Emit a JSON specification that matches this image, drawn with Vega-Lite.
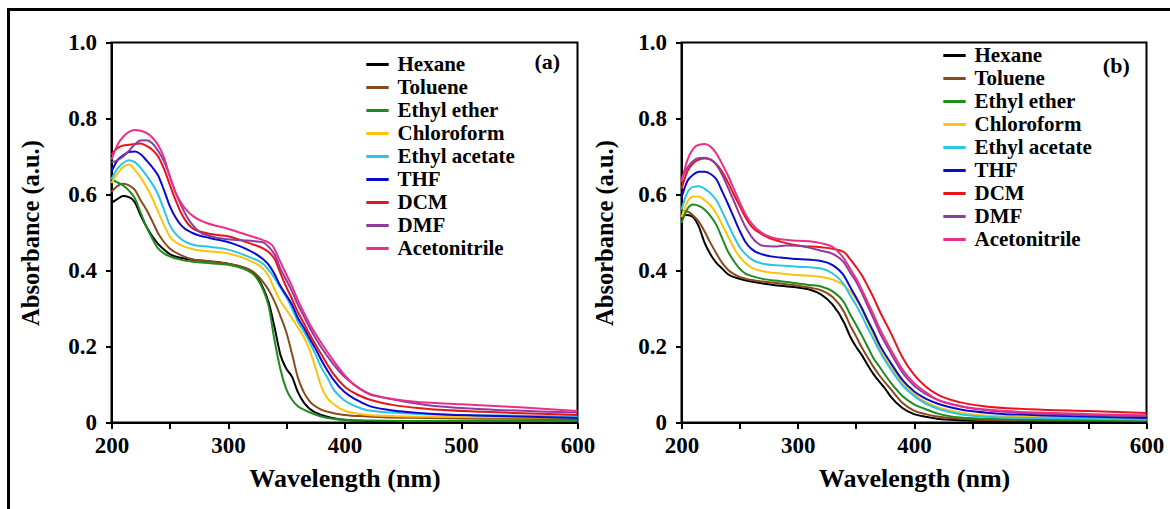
{
"$schema": "https://vega.github.io/schema/vega-lite/v6.json",
"background": "white",
"padding": {"left": 4.5, "top": 5.5, "right": 0, "bottom": 0},
"bounds": "flush",
"spacing": 104,
"resolve": {"scale": {"color": "independent"}, "legend": {"color": "independent"}},
"config": {
 "font": "Liberation Serif",
 "view": {"stroke": "black", "strokeWidth": 2},
 "axis": {"labelFont": "Liberation Serif", "labelFontWeight": "bold", "labelFontSize": 23, "labelColor": "black", "titleFont": "Liberation Serif", "titleFontWeight": "bold", "titleColor": "black", "domainColor": "black", "domainWidth": 2, "tickColor": "black", "tickWidth": 2, "tickSize": 6, "grid": false, "labelOverlap": false, "labelFlush": false},
 "axisX": {"titleFontSize": 26},
 "axisY": {"titleFontSize": 24.5},
 "legend": {"labelFont": "Liberation Serif", "labelFontWeight": "bold", "labelFontSize": 21, "labelColor": "black", "symbolType": "stroke", "symbolStrokeWidth": 3, "symbolSize": 500, "rowPadding": 0, "labelOffset": 7, "padding": 0}
},
"datasets": {
"a": [
{"s":"Hexane","w":200,"a":0.578},{"s":"Hexane","w":205,"a":0.588},{"s":"Hexane","w":210,"a":0.596},{"s":"Hexane","w":215,"a":0.593},{"s":"Hexane","w":220,"a":0.58},{"s":"Hexane","w":225,"a":0.545},{"s":"Hexane","w":230,"a":0.515},{"s":"Hexane","w":235,"a":0.49},{"s":"Hexane","w":240,"a":0.47},{"s":"Hexane","w":245,"a":0.455},{"s":"Hexane","w":250,"a":0.443},{"s":"Hexane","w":260,"a":0.433},{"s":"Hexane","w":270,"a":0.428},{"s":"Hexane","w":285,"a":0.424},{"s":"Hexane","w":300,"a":0.418},{"s":"Hexane","w":320,"a":0.398},{"s":"Hexane","w":330,"a":0.355},{"s":"Hexane","w":335,"a":0.315},{"s":"Hexane","w":340,"a":0.25},{"s":"Hexane","w":345,"a":0.178},{"s":"Hexane","w":350,"a":0.142},{"s":"Hexane","w":355,"a":0.12},{"s":"Hexane","w":360,"a":0.08},{"s":"Hexane","w":365,"a":0.053},{"s":"Hexane","w":370,"a":0.036},{"s":"Hexane","w":380,"a":0.02},{"s":"Hexane","w":390,"a":0.012},{"s":"Hexane","w":400,"a":0.007},{"s":"Hexane","w":420,"a":0.004},{"s":"Hexane","w":450,"a":0.003},{"s":"Hexane","w":520,"a":0.002},{"s":"Hexane","w":600,"a":0.002},
{"s":"Toluene","w":200,"a":0.607},{"s":"Toluene","w":205,"a":0.622},{"s":"Toluene","w":210,"a":0.628},{"s":"Toluene","w":215,"a":0.624},{"s":"Toluene","w":220,"a":0.612},{"s":"Toluene","w":225,"a":0.585},{"s":"Toluene","w":230,"a":0.56},{"s":"Toluene","w":235,"a":0.53},{"s":"Toluene","w":240,"a":0.498},{"s":"Toluene","w":245,"a":0.475},{"s":"Toluene","w":250,"a":0.458},{"s":"Toluene","w":260,"a":0.44},{"s":"Toluene","w":270,"a":0.429},{"s":"Toluene","w":285,"a":0.424},{"s":"Toluene","w":300,"a":0.418},{"s":"Toluene","w":320,"a":0.4},{"s":"Toluene","w":330,"a":0.37},{"s":"Toluene","w":335,"a":0.348},{"s":"Toluene","w":340,"a":0.318},{"s":"Toluene","w":345,"a":0.28},{"s":"Toluene","w":350,"a":0.238},{"s":"Toluene","w":355,"a":0.18},{"s":"Toluene","w":360,"a":0.118},{"s":"Toluene","w":365,"a":0.08},{"s":"Toluene","w":370,"a":0.056},{"s":"Toluene","w":380,"a":0.034},{"s":"Toluene","w":390,"a":0.025},{"s":"Toluene","w":400,"a":0.02},{"s":"Toluene","w":420,"a":0.016},{"s":"Toluene","w":440,"a":0.013},{"s":"Toluene","w":470,"a":0.012},{"s":"Toluene","w":520,"a":0.01},{"s":"Toluene","w":600,"a":0.009},
{"s":"Ethyl ether","w":200,"a":0.64},{"s":"Ethyl ether","w":205,"a":0.632},{"s":"Ethyl ether","w":210,"a":0.624},{"s":"Ethyl ether","w":215,"a":0.61},{"s":"Ethyl ether","w":220,"a":0.59},{"s":"Ethyl ether","w":225,"a":0.552},{"s":"Ethyl ether","w":230,"a":0.515},{"s":"Ethyl ether","w":235,"a":0.484},{"s":"Ethyl ether","w":240,"a":0.458},{"s":"Ethyl ether","w":245,"a":0.445},{"s":"Ethyl ether","w":250,"a":0.437},{"s":"Ethyl ether","w":260,"a":0.428},{"s":"Ethyl ether","w":270,"a":0.423},{"s":"Ethyl ether","w":285,"a":0.419},{"s":"Ethyl ether","w":300,"a":0.415},{"s":"Ethyl ether","w":320,"a":0.394},{"s":"Ethyl ether","w":330,"a":0.35},{"s":"Ethyl ether","w":335,"a":0.305},{"s":"Ethyl ether","w":340,"a":0.215},{"s":"Ethyl ether","w":345,"a":0.14},{"s":"Ethyl ether","w":350,"a":0.088},{"s":"Ethyl ether","w":355,"a":0.06},{"s":"Ethyl ether","w":360,"a":0.043},{"s":"Ethyl ether","w":365,"a":0.034},{"s":"Ethyl ether","w":370,"a":0.027},{"s":"Ethyl ether","w":380,"a":0.016},{"s":"Ethyl ether","w":390,"a":0.01},{"s":"Ethyl ether","w":400,"a":0.007},{"s":"Ethyl ether","w":420,"a":0.005},{"s":"Ethyl ether","w":450,"a":0.004},{"s":"Ethyl ether","w":520,"a":0.004},{"s":"Ethyl ether","w":600,"a":0.004},
{"s":"Chloroform","w":200,"a":0.63},{"s":"Chloroform","w":205,"a":0.655},{"s":"Chloroform","w":210,"a":0.672},{"s":"Chloroform","w":215,"a":0.679},{"s":"Chloroform","w":220,"a":0.665},{"s":"Chloroform","w":225,"a":0.645},{"s":"Chloroform","w":230,"a":0.62},{"s":"Chloroform","w":235,"a":0.59},{"s":"Chloroform","w":240,"a":0.555},{"s":"Chloroform","w":245,"a":0.52},{"s":"Chloroform","w":250,"a":0.49},{"s":"Chloroform","w":260,"a":0.466},{"s":"Chloroform","w":270,"a":0.456},{"s":"Chloroform","w":285,"a":0.45},{"s":"Chloroform","w":300,"a":0.445},{"s":"Chloroform","w":320,"a":0.424},{"s":"Chloroform","w":330,"a":0.405},{"s":"Chloroform","w":335,"a":0.385},{"s":"Chloroform","w":340,"a":0.35},{"s":"Chloroform","w":345,"a":0.32},{"s":"Chloroform","w":350,"a":0.297},{"s":"Chloroform","w":355,"a":0.274},{"s":"Chloroform","w":360,"a":0.25},{"s":"Chloroform","w":365,"a":0.225},{"s":"Chloroform","w":370,"a":0.192},{"s":"Chloroform","w":375,"a":0.145},{"s":"Chloroform","w":380,"a":0.095},{"s":"Chloroform","w":385,"a":0.065},{"s":"Chloroform","w":390,"a":0.05},{"s":"Chloroform","w":400,"a":0.031},{"s":"Chloroform","w":420,"a":0.02},{"s":"Chloroform","w":440,"a":0.017},{"s":"Chloroform","w":470,"a":0.015},{"s":"Chloroform","w":520,"a":0.014},{"s":"Chloroform","w":600,"a":0.013},
{"s":"Ethyl acetate","w":200,"a":0.64},{"s":"Ethyl acetate","w":205,"a":0.668},{"s":"Ethyl acetate","w":210,"a":0.683},{"s":"Ethyl acetate","w":215,"a":0.69},{"s":"Ethyl acetate","w":220,"a":0.685},{"s":"Ethyl acetate","w":225,"a":0.67},{"s":"Ethyl acetate","w":230,"a":0.65},{"s":"Ethyl acetate","w":235,"a":0.628},{"s":"Ethyl acetate","w":240,"a":0.6},{"s":"Ethyl acetate","w":245,"a":0.56},{"s":"Ethyl acetate","w":250,"a":0.52},{"s":"Ethyl acetate","w":260,"a":0.482},{"s":"Ethyl acetate","w":270,"a":0.468},{"s":"Ethyl acetate","w":285,"a":0.462},{"s":"Ethyl acetate","w":300,"a":0.455},{"s":"Ethyl acetate","w":320,"a":0.433},{"s":"Ethyl acetate","w":330,"a":0.418},{"s":"Ethyl acetate","w":340,"a":0.38},{"s":"Ethyl acetate","w":345,"a":0.355},{"s":"Ethyl acetate","w":350,"a":0.33},{"s":"Ethyl acetate","w":355,"a":0.3},{"s":"Ethyl acetate","w":360,"a":0.265},{"s":"Ethyl acetate","w":365,"a":0.24},{"s":"Ethyl acetate","w":370,"a":0.212},{"s":"Ethyl acetate","w":375,"a":0.18},{"s":"Ethyl acetate","w":380,"a":0.145},{"s":"Ethyl acetate","w":385,"a":0.12},{"s":"Ethyl acetate","w":390,"a":0.09},{"s":"Ethyl acetate","w":400,"a":0.058},{"s":"Ethyl acetate","w":410,"a":0.042},{"s":"Ethyl acetate","w":420,"a":0.032},{"s":"Ethyl acetate","w":440,"a":0.026},{"s":"Ethyl acetate","w":470,"a":0.022},{"s":"Ethyl acetate","w":520,"a":0.019},{"s":"Ethyl acetate","w":600,"a":0.016},
{"s":"THF","w":200,"a":0.66},{"s":"THF","w":205,"a":0.69},{"s":"THF","w":210,"a":0.703},{"s":"THF","w":215,"a":0.712},{"s":"THF","w":220,"a":0.713},{"s":"THF","w":225,"a":0.706},{"s":"THF","w":230,"a":0.69},{"s":"THF","w":235,"a":0.672},{"s":"THF","w":240,"a":0.65},{"s":"THF","w":245,"a":0.612},{"s":"THF","w":250,"a":0.57},{"s":"THF","w":260,"a":0.518},{"s":"THF","w":270,"a":0.498},{"s":"THF","w":285,"a":0.485},{"s":"THF","w":300,"a":0.475},{"s":"THF","w":310,"a":0.464},{"s":"THF","w":320,"a":0.45},{"s":"THF","w":330,"a":0.43},{"s":"THF","w":335,"a":0.415},{"s":"THF","w":340,"a":0.39},{"s":"THF","w":345,"a":0.359},{"s":"THF","w":350,"a":0.335},{"s":"THF","w":355,"a":0.31},{"s":"THF","w":360,"a":0.275},{"s":"THF","w":365,"a":0.25},{"s":"THF","w":370,"a":0.222},{"s":"THF","w":375,"a":0.195},{"s":"THF","w":380,"a":0.165},{"s":"THF","w":390,"a":0.115},{"s":"THF","w":400,"a":0.08},{"s":"THF","w":410,"a":0.06},{"s":"THF","w":420,"a":0.045},{"s":"THF","w":440,"a":0.032},{"s":"THF","w":470,"a":0.024},{"s":"THF","w":520,"a":0.018},{"s":"THF","w":600,"a":0.012},
{"s":"DCM","w":200,"a":0.705},{"s":"DCM","w":205,"a":0.722},{"s":"DCM","w":210,"a":0.729},{"s":"DCM","w":215,"a":0.731},{"s":"DCM","w":220,"a":0.733},{"s":"DCM","w":225,"a":0.734},{"s":"DCM","w":230,"a":0.728},{"s":"DCM","w":235,"a":0.718},{"s":"DCM","w":240,"a":0.7},{"s":"DCM","w":245,"a":0.668},{"s":"DCM","w":250,"a":0.626},{"s":"DCM","w":255,"a":0.585},{"s":"DCM","w":260,"a":0.55},{"s":"DCM","w":270,"a":0.51},{"s":"DCM","w":285,"a":0.496},{"s":"DCM","w":300,"a":0.49},{"s":"DCM","w":320,"a":0.47},{"s":"DCM","w":330,"a":0.458},{"s":"DCM","w":335,"a":0.448},{"s":"DCM","w":340,"a":0.43},{"s":"DCM","w":345,"a":0.393},{"s":"DCM","w":350,"a":0.357},{"s":"DCM","w":355,"a":0.325},{"s":"DCM","w":360,"a":0.29},{"s":"DCM","w":365,"a":0.262},{"s":"DCM","w":370,"a":0.232},{"s":"DCM","w":380,"a":0.18},{"s":"DCM","w":390,"a":0.13},{"s":"DCM","w":400,"a":0.095},{"s":"DCM","w":410,"a":0.075},{"s":"DCM","w":420,"a":0.062},{"s":"DCM","w":440,"a":0.047},{"s":"DCM","w":470,"a":0.036},{"s":"DCM","w":520,"a":0.028},{"s":"DCM","w":600,"a":0.02},
{"s":"DMF","w":200,"a":0.685},{"s":"DMF","w":205,"a":0.69},{"s":"DMF","w":210,"a":0.7},{"s":"DMF","w":215,"a":0.715},{"s":"DMF","w":220,"a":0.732},{"s":"DMF","w":225,"a":0.742},{"s":"DMF","w":230,"a":0.743},{"s":"DMF","w":235,"a":0.735},{"s":"DMF","w":240,"a":0.715},{"s":"DMF","w":245,"a":0.688},{"s":"DMF","w":250,"a":0.648},{"s":"DMF","w":255,"a":0.605},{"s":"DMF","w":260,"a":0.57},{"s":"DMF","w":265,"a":0.54},{"s":"DMF","w":275,"a":0.503},{"s":"DMF","w":285,"a":0.49},{"s":"DMF","w":300,"a":0.482},{"s":"DMF","w":320,"a":0.478},{"s":"DMF","w":330,"a":0.474},{"s":"DMF","w":335,"a":0.462},{"s":"DMF","w":340,"a":0.442},{"s":"DMF","w":345,"a":0.405},{"s":"DMF","w":350,"a":0.375},{"s":"DMF","w":355,"a":0.345},{"s":"DMF","w":360,"a":0.31},{"s":"DMF","w":365,"a":0.28},{"s":"DMF","w":370,"a":0.25},{"s":"DMF","w":380,"a":0.198},{"s":"DMF","w":390,"a":0.155},{"s":"DMF","w":400,"a":0.12},{"s":"DMF","w":410,"a":0.096},{"s":"DMF","w":420,"a":0.076},{"s":"DMF","w":440,"a":0.062},{"s":"DMF","w":470,"a":0.046},{"s":"DMF","w":520,"a":0.035},{"s":"DMF","w":600,"a":0.026},
{"s":"Acetonitrile","w":200,"a":0.692},{"s":"Acetonitrile","w":205,"a":0.73},{"s":"Acetonitrile","w":210,"a":0.752},{"s":"Acetonitrile","w":215,"a":0.765},{"s":"Acetonitrile","w":220,"a":0.77},{"s":"Acetonitrile","w":225,"a":0.768},{"s":"Acetonitrile","w":230,"a":0.762},{"s":"Acetonitrile","w":235,"a":0.75},{"s":"Acetonitrile","w":240,"a":0.73},{"s":"Acetonitrile","w":245,"a":0.698},{"s":"Acetonitrile","w":250,"a":0.648},{"s":"Acetonitrile","w":255,"a":0.605},{"s":"Acetonitrile","w":260,"a":0.577},{"s":"Acetonitrile","w":265,"a":0.557},{"s":"Acetonitrile","w":270,"a":0.543},{"s":"Acetonitrile","w":280,"a":0.527},{"s":"Acetonitrile","w":300,"a":0.51},{"s":"Acetonitrile","w":320,"a":0.49},{"s":"Acetonitrile","w":330,"a":0.48},{"s":"Acetonitrile","w":338,"a":0.466},{"s":"Acetonitrile","w":345,"a":0.422},{"s":"Acetonitrile","w":350,"a":0.39},{"s":"Acetonitrile","w":355,"a":0.358},{"s":"Acetonitrile","w":360,"a":0.322},{"s":"Acetonitrile","w":365,"a":0.29},{"s":"Acetonitrile","w":370,"a":0.26},{"s":"Acetonitrile","w":380,"a":0.21},{"s":"Acetonitrile","w":390,"a":0.165},{"s":"Acetonitrile","w":400,"a":0.125},{"s":"Acetonitrile","w":410,"a":0.095},{"s":"Acetonitrile","w":420,"a":0.078},{"s":"Acetonitrile","w":435,"a":0.065},{"s":"Acetonitrile","w":450,"a":0.058},{"s":"Acetonitrile","w":500,"a":0.048},{"s":"Acetonitrile","w":550,"a":0.04},{"s":"Acetonitrile","w":600,"a":0.03}
],
"b": [
{"s":"Hexane","w":200,"a":0.545},{"s":"Hexane","w":205,"a":0.546},{"s":"Hexane","w":210,"a":0.54},{"s":"Hexane","w":215,"a":0.515},{"s":"Hexane","w":220,"a":0.472},{"s":"Hexane","w":225,"a":0.442},{"s":"Hexane","w":230,"a":0.42},{"s":"Hexane","w":235,"a":0.405},{"s":"Hexane","w":240,"a":0.39},{"s":"Hexane","w":250,"a":0.378},{"s":"Hexane","w":260,"a":0.371},{"s":"Hexane","w":270,"a":0.366},{"s":"Hexane","w":285,"a":0.36},{"s":"Hexane","w":300,"a":0.355},{"s":"Hexane","w":310,"a":0.35},{"s":"Hexane","w":320,"a":0.337},{"s":"Hexane","w":330,"a":0.31},{"s":"Hexane","w":340,"a":0.262},{"s":"Hexane","w":345,"a":0.227},{"s":"Hexane","w":350,"a":0.2},{"s":"Hexane","w":355,"a":0.178},{"s":"Hexane","w":360,"a":0.152},{"s":"Hexane","w":365,"a":0.128},{"s":"Hexane","w":370,"a":0.108},{"s":"Hexane","w":375,"a":0.09},{"s":"Hexane","w":380,"a":0.068},{"s":"Hexane","w":390,"a":0.038},{"s":"Hexane","w":400,"a":0.022},{"s":"Hexane","w":410,"a":0.015},{"s":"Hexane","w":420,"a":0.01},{"s":"Hexane","w":440,"a":0.006},{"s":"Hexane","w":470,"a":0.004},{"s":"Hexane","w":520,"a":0.003},{"s":"Hexane","w":600,"a":0.003},
{"s":"Toluene","w":200,"a":0.556},{"s":"Toluene","w":205,"a":0.555},{"s":"Toluene","w":210,"a":0.545},{"s":"Toluene","w":215,"a":0.528},{"s":"Toluene","w":220,"a":0.502},{"s":"Toluene","w":225,"a":0.472},{"s":"Toluene","w":230,"a":0.445},{"s":"Toluene","w":235,"a":0.42},{"s":"Toluene","w":240,"a":0.402},{"s":"Toluene","w":250,"a":0.383},{"s":"Toluene","w":260,"a":0.375},{"s":"Toluene","w":270,"a":0.371},{"s":"Toluene","w":285,"a":0.366},{"s":"Toluene","w":300,"a":0.36},{"s":"Toluene","w":310,"a":0.355},{"s":"Toluene","w":320,"a":0.348},{"s":"Toluene","w":330,"a":0.33},{"s":"Toluene","w":340,"a":0.29},{"s":"Toluene","w":345,"a":0.256},{"s":"Toluene","w":350,"a":0.228},{"s":"Toluene","w":355,"a":0.198},{"s":"Toluene","w":360,"a":0.172},{"s":"Toluene","w":365,"a":0.147},{"s":"Toluene","w":370,"a":0.125},{"s":"Toluene","w":380,"a":0.088},{"s":"Toluene","w":390,"a":0.052},{"s":"Toluene","w":400,"a":0.031},{"s":"Toluene","w":410,"a":0.022},{"s":"Toluene","w":420,"a":0.016},{"s":"Toluene","w":440,"a":0.01},{"s":"Toluene","w":470,"a":0.006},{"s":"Toluene","w":520,"a":0.005},{"s":"Toluene","w":600,"a":0.004},
{"s":"Ethyl ether","w":200,"a":0.525},{"s":"Ethyl ether","w":205,"a":0.562},{"s":"Ethyl ether","w":210,"a":0.574},{"s":"Ethyl ether","w":215,"a":0.57},{"s":"Ethyl ether","w":220,"a":0.56},{"s":"Ethyl ether","w":225,"a":0.543},{"s":"Ethyl ether","w":230,"a":0.52},{"s":"Ethyl ether","w":235,"a":0.485},{"s":"Ethyl ether","w":240,"a":0.45},{"s":"Ethyl ether","w":245,"a":0.425},{"s":"Ethyl ether","w":250,"a":0.405},{"s":"Ethyl ether","w":255,"a":0.392},{"s":"Ethyl ether","w":260,"a":0.386},{"s":"Ethyl ether","w":270,"a":0.378},{"s":"Ethyl ether","w":285,"a":0.372},{"s":"Ethyl ether","w":300,"a":0.366},{"s":"Ethyl ether","w":310,"a":0.362},{"s":"Ethyl ether","w":320,"a":0.358},{"s":"Ethyl ether","w":330,"a":0.345},{"s":"Ethyl ether","w":340,"a":0.315},{"s":"Ethyl ether","w":345,"a":0.285},{"s":"Ethyl ether","w":350,"a":0.258},{"s":"Ethyl ether","w":355,"a":0.23},{"s":"Ethyl ether","w":360,"a":0.2},{"s":"Ethyl ether","w":365,"a":0.17},{"s":"Ethyl ether","w":370,"a":0.148},{"s":"Ethyl ether","w":380,"a":0.105},{"s":"Ethyl ether","w":390,"a":0.07},{"s":"Ethyl ether","w":400,"a":0.048},{"s":"Ethyl ether","w":410,"a":0.035},{"s":"Ethyl ether","w":420,"a":0.024},{"s":"Ethyl ether","w":440,"a":0.013},{"s":"Ethyl ether","w":470,"a":0.009},{"s":"Ethyl ether","w":520,"a":0.007},{"s":"Ethyl ether","w":600,"a":0.006},
{"s":"Chloroform","w":200,"a":0.54},{"s":"Chloroform","w":205,"a":0.58},{"s":"Chloroform","w":210,"a":0.595},{"s":"Chloroform","w":215,"a":0.595},{"s":"Chloroform","w":220,"a":0.585},{"s":"Chloroform","w":225,"a":0.571},{"s":"Chloroform","w":230,"a":0.55},{"s":"Chloroform","w":235,"a":0.52},{"s":"Chloroform","w":240,"a":0.49},{"s":"Chloroform","w":245,"a":0.46},{"s":"Chloroform","w":250,"a":0.436},{"s":"Chloroform","w":255,"a":0.42},{"s":"Chloroform","w":260,"a":0.408},{"s":"Chloroform","w":270,"a":0.398},{"s":"Chloroform","w":285,"a":0.392},{"s":"Chloroform","w":300,"a":0.388},{"s":"Chloroform","w":320,"a":0.383},{"s":"Chloroform","w":330,"a":0.376},{"s":"Chloroform","w":340,"a":0.36},{"s":"Chloroform","w":345,"a":0.345},{"s":"Chloroform","w":350,"a":0.325},{"s":"Chloroform","w":355,"a":0.298},{"s":"Chloroform","w":360,"a":0.265},{"s":"Chloroform","w":365,"a":0.232},{"s":"Chloroform","w":370,"a":0.198},{"s":"Chloroform","w":380,"a":0.148},{"s":"Chloroform","w":390,"a":0.105},{"s":"Chloroform","w":400,"a":0.075},{"s":"Chloroform","w":410,"a":0.054},{"s":"Chloroform","w":420,"a":0.041},{"s":"Chloroform","w":440,"a":0.026},{"s":"Chloroform","w":470,"a":0.017},{"s":"Chloroform","w":520,"a":0.013},{"s":"Chloroform","w":600,"a":0.009},
{"s":"Ethyl acetate","w":200,"a":0.56},{"s":"Ethyl acetate","w":205,"a":0.605},{"s":"Ethyl acetate","w":210,"a":0.62},{"s":"Ethyl acetate","w":215,"a":0.622},{"s":"Ethyl acetate","w":220,"a":0.615},{"s":"Ethyl acetate","w":225,"a":0.603},{"s":"Ethyl acetate","w":230,"a":0.585},{"s":"Ethyl acetate","w":235,"a":0.555},{"s":"Ethyl acetate","w":240,"a":0.522},{"s":"Ethyl acetate","w":245,"a":0.49},{"s":"Ethyl acetate","w":250,"a":0.462},{"s":"Ethyl acetate","w":255,"a":0.443},{"s":"Ethyl acetate","w":260,"a":0.43},{"s":"Ethyl acetate","w":270,"a":0.418},{"s":"Ethyl acetate","w":285,"a":0.413},{"s":"Ethyl acetate","w":300,"a":0.41},{"s":"Ethyl acetate","w":320,"a":0.405},{"s":"Ethyl acetate","w":330,"a":0.392},{"s":"Ethyl acetate","w":340,"a":0.362},{"s":"Ethyl acetate","w":345,"a":0.335},{"s":"Ethyl acetate","w":350,"a":0.31},{"s":"Ethyl acetate","w":355,"a":0.282},{"s":"Ethyl acetate","w":360,"a":0.25},{"s":"Ethyl acetate","w":365,"a":0.22},{"s":"Ethyl acetate","w":370,"a":0.19},{"s":"Ethyl acetate","w":380,"a":0.14},{"s":"Ethyl acetate","w":390,"a":0.098},{"s":"Ethyl acetate","w":400,"a":0.07},{"s":"Ethyl acetate","w":410,"a":0.05},{"s":"Ethyl acetate","w":420,"a":0.037},{"s":"Ethyl acetate","w":440,"a":0.022},{"s":"Ethyl acetate","w":470,"a":0.014},{"s":"Ethyl acetate","w":520,"a":0.011},{"s":"Ethyl acetate","w":600,"a":0.008},
{"s":"THF","w":200,"a":0.592},{"s":"THF","w":205,"a":0.635},{"s":"THF","w":210,"a":0.652},{"s":"THF","w":215,"a":0.66},{"s":"THF","w":220,"a":0.66},{"s":"THF","w":225,"a":0.654},{"s":"THF","w":230,"a":0.64},{"s":"THF","w":235,"a":0.608},{"s":"THF","w":240,"a":0.575},{"s":"THF","w":245,"a":0.54},{"s":"THF","w":250,"a":0.505},{"s":"THF","w":255,"a":0.475},{"s":"THF","w":260,"a":0.457},{"s":"THF","w":270,"a":0.442},{"s":"THF","w":285,"a":0.434},{"s":"THF","w":300,"a":0.43},{"s":"THF","w":320,"a":0.425},{"s":"THF","w":330,"a":0.414},{"s":"THF","w":340,"a":0.385},{"s":"THF","w":345,"a":0.357},{"s":"THF","w":350,"a":0.33},{"s":"THF","w":355,"a":0.302},{"s":"THF","w":360,"a":0.27},{"s":"THF","w":365,"a":0.24},{"s":"THF","w":370,"a":0.207},{"s":"THF","w":380,"a":0.157},{"s":"THF","w":390,"a":0.112},{"s":"THF","w":400,"a":0.082},{"s":"THF","w":410,"a":0.063},{"s":"THF","w":420,"a":0.05},{"s":"THF","w":440,"a":0.034},{"s":"THF","w":470,"a":0.024},{"s":"THF","w":520,"a":0.018},{"s":"THF","w":600,"a":0.012},
{"s":"DCM","w":200,"a":0.615},{"s":"DCM","w":205,"a":0.66},{"s":"DCM","w":210,"a":0.682},{"s":"DCM","w":215,"a":0.692},{"s":"DCM","w":220,"a":0.695},{"s":"DCM","w":225,"a":0.692},{"s":"DCM","w":230,"a":0.68},{"s":"DCM","w":235,"a":0.66},{"s":"DCM","w":240,"a":0.632},{"s":"DCM","w":245,"a":0.6},{"s":"DCM","w":250,"a":0.57},{"s":"DCM","w":255,"a":0.54},{"s":"DCM","w":260,"a":0.517},{"s":"DCM","w":270,"a":0.494},{"s":"DCM","w":285,"a":0.476},{"s":"DCM","w":300,"a":0.466},{"s":"DCM","w":320,"a":0.461},{"s":"DCM","w":330,"a":0.457},{"s":"DCM","w":340,"a":0.448},{"s":"DCM","w":345,"a":0.43},{"s":"DCM","w":350,"a":0.41},{"s":"DCM","w":355,"a":0.388},{"s":"DCM","w":360,"a":0.36},{"s":"DCM","w":365,"a":0.33},{"s":"DCM","w":370,"a":0.296},{"s":"DCM","w":380,"a":0.236},{"s":"DCM","w":390,"a":0.172},{"s":"DCM","w":400,"a":0.126},{"s":"DCM","w":410,"a":0.095},{"s":"DCM","w":420,"a":0.074},{"s":"DCM","w":440,"a":0.053},{"s":"DCM","w":460,"a":0.043},{"s":"DCM","w":500,"a":0.035},{"s":"DCM","w":550,"a":0.03},{"s":"DCM","w":600,"a":0.025},
{"s":"DMF","w":200,"a":0.64},{"s":"DMF","w":205,"a":0.67},{"s":"DMF","w":210,"a":0.688},{"s":"DMF","w":215,"a":0.696},{"s":"DMF","w":220,"a":0.697},{"s":"DMF","w":225,"a":0.692},{"s":"DMF","w":230,"a":0.678},{"s":"DMF","w":235,"a":0.652},{"s":"DMF","w":240,"a":0.618},{"s":"DMF","w":245,"a":0.583},{"s":"DMF","w":250,"a":0.547},{"s":"DMF","w":255,"a":0.515},{"s":"DMF","w":260,"a":0.49},{"s":"DMF","w":265,"a":0.473},{"s":"DMF","w":270,"a":0.465},{"s":"DMF","w":280,"a":0.463},{"s":"DMF","w":290,"a":0.466},{"s":"DMF","w":300,"a":0.465},{"s":"DMF","w":320,"a":0.452},{"s":"DMF","w":330,"a":0.444},{"s":"DMF","w":340,"a":0.42},{"s":"DMF","w":345,"a":0.395},{"s":"DMF","w":350,"a":0.372},{"s":"DMF","w":355,"a":0.342},{"s":"DMF","w":360,"a":0.308},{"s":"DMF","w":365,"a":0.275},{"s":"DMF","w":370,"a":0.24},{"s":"DMF","w":380,"a":0.183},{"s":"DMF","w":390,"a":0.132},{"s":"DMF","w":400,"a":0.097},{"s":"DMF","w":410,"a":0.075},{"s":"DMF","w":420,"a":0.06},{"s":"DMF","w":440,"a":0.043},{"s":"DMF","w":470,"a":0.03},{"s":"DMF","w":520,"a":0.022},{"s":"DMF","w":600,"a":0.017},
{"s":"Acetonitrile","w":200,"a":0.632},{"s":"Acetonitrile","w":205,"a":0.69},{"s":"Acetonitrile","w":210,"a":0.72},{"s":"Acetonitrile","w":215,"a":0.731},{"s":"Acetonitrile","w":220,"a":0.733},{"s":"Acetonitrile","w":225,"a":0.726},{"s":"Acetonitrile","w":230,"a":0.708},{"s":"Acetonitrile","w":235,"a":0.68},{"s":"Acetonitrile","w":240,"a":0.65},{"s":"Acetonitrile","w":245,"a":0.615},{"s":"Acetonitrile","w":250,"a":0.58},{"s":"Acetonitrile","w":255,"a":0.548},{"s":"Acetonitrile","w":260,"a":0.525},{"s":"Acetonitrile","w":270,"a":0.497},{"s":"Acetonitrile","w":280,"a":0.485},{"s":"Acetonitrile","w":290,"a":0.481},{"s":"Acetonitrile","w":300,"a":0.478},{"s":"Acetonitrile","w":310,"a":0.477},{"s":"Acetonitrile","w":320,"a":0.472},{"s":"Acetonitrile","w":330,"a":0.462},{"s":"Acetonitrile","w":340,"a":0.43},{"s":"Acetonitrile","w":345,"a":0.405},{"s":"Acetonitrile","w":350,"a":0.38},{"s":"Acetonitrile","w":355,"a":0.35},{"s":"Acetonitrile","w":360,"a":0.318},{"s":"Acetonitrile","w":365,"a":0.285},{"s":"Acetonitrile","w":370,"a":0.25},{"s":"Acetonitrile","w":380,"a":0.192},{"s":"Acetonitrile","w":390,"a":0.14},{"s":"Acetonitrile","w":400,"a":0.104},{"s":"Acetonitrile","w":410,"a":0.08},{"s":"Acetonitrile","w":420,"a":0.06},{"s":"Acetonitrile","w":440,"a":0.043},{"s":"Acetonitrile","w":470,"a":0.032},{"s":"Acetonitrile","w":520,"a":0.025},{"s":"Acetonitrile","w":600,"a":0.019}
]
},
"hconcat": [
{
 "width": 466, "height": 380,
 "layer": [
  {
   "data": {"name": "a"},
   "mark": {"type": "line", "interpolate": "monotone", "strokeWidth": 2},
   "encoding": {
    "x": {"field": "w", "type": "quantitative", "scale": {"domain": [200, 600], "nice": false},
      "axis": {"title": "Wavelength (nm)", "values": [200,250,300,350,400,450,500,550,600], "labelExpr": "datum.value % 100 == 0 ? datum.label : ''", "labelPadding": 6, "titlePadding": 8}},
    "y": {"field": "a", "type": "quantitative", "scale": {"domain": [0, 1], "nice": false},
      "axis": {"title": "Absorbance (a.u.)", "values": [0,0.1,0.2,0.3,0.4,0.5,0.6,0.7,0.8,0.9,1.0], "labelExpr": "datum.value == 0 ? '0' : (round(datum.value*10) % 2 == 0 ? format(datum.value, '.1f') : '')", "labelPadding": 9, "titlePadding": 24}},
    "color": {"field": "s", "type": "nominal", "sort": null,
      "scale": {"domain": ["Hexane","Toluene","Ethyl ether","Chloroform","Ethyl acetate","THF","DCM","DMF","Acetonitrile"], "range": ["#000000","#8B4A1C","#1E8C1E","#FFC20E","#2CC4E4","#0A0ACF","#E8141B","#8E3C9E","#EC2F86"]},
      "legend": {"title": null, "orient": "none", "legendX": 253, "legendY": 9}}
   }
  },
  {
   "data": {"values": [{}]},
   "mark": {"type": "text", "font": "Liberation Serif", "fontWeight": "bold", "fontSize": 22, "color": "black"},
   "encoding": {"x": {"datum": 574}, "y": {"datum": 0.95}, "text": {"value": "(a)"}}
  },
  {
   "data": {"values": [{}]},
   "mark": {"type": "rule", "color": "black", "strokeWidth": 3, "strokeCap": "square"},
   "encoding": {"x": {"datum": 111.6}, "y": {"datum": 1.087}, "y2": {"datum": -0.26}}
  },
  {
   "data": {"values": [{}]},
   "mark": {"type": "rule", "color": "black", "strokeWidth": 3, "strokeCap": "square"},
   "encoding": {"x": {"datum": 111.6}, "x2": {"datum": 654}, "y": {"datum": 1.087}}
  }
 ]
},
{
 "width": 465, "height": 380,
 "layer": [
  {
   "data": {"name": "b"},
   "mark": {"type": "line", "interpolate": "monotone", "strokeWidth": 2},
   "encoding": {
    "x": {"field": "w", "type": "quantitative", "scale": {"domain": [200, 600], "nice": false},
      "axis": {"title": "Wavelength (nm)", "values": [200,250,300,350,400,450,500,550,600], "labelExpr": "datum.value % 100 == 0 ? datum.label : ''", "labelPadding": 6, "titlePadding": 8}},
    "y": {"field": "a", "type": "quantitative", "scale": {"domain": [0, 1], "nice": false},
      "axis": {"title": "Absorbance (a.u.)", "values": [0,0.1,0.2,0.3,0.4,0.5,0.6,0.7,0.8,0.9,1.0], "labelExpr": "datum.value == 0 ? '0' : (round(datum.value*10) % 2 == 0 ? format(datum.value, '.1f') : '')", "labelPadding": 9, "titlePadding": 20}},
    "color": {"field": "s", "type": "nominal", "sort": null,
      "scale": {"domain": ["Hexane","Toluene","Ethyl ether","Chloroform","Ethyl acetate","THF","DCM","DMF","Acetonitrile"], "range": ["#000000","#8B4A1C","#1E8C1E","#FFC20E","#2CC4E4","#0A0ACF","#E8141B","#8E3C9E","#EC2F86"]},
      "legend": {"title": null, "orient": "none", "legendX": 260, "legendY": 0}}
   }
  },
  {
   "data": {"values": [{}]},
   "mark": {"type": "text", "font": "Liberation Serif", "fontWeight": "bold", "fontSize": 22, "color": "black"},
   "encoding": {"x": {"datum": 574}, "y": {"datum": 0.938}, "text": {"value": "(b)"}}
  },
  {
   "data": {"values": [{}]},
   "mark": {"type": "rule", "color": "black", "strokeWidth": 3, "strokeCap": "square"},
   "encoding": {"x": {"datum": 156}, "x2": {"datum": 629}, "y": {"datum": 1.087}}
  }
 ]
}
]
}
